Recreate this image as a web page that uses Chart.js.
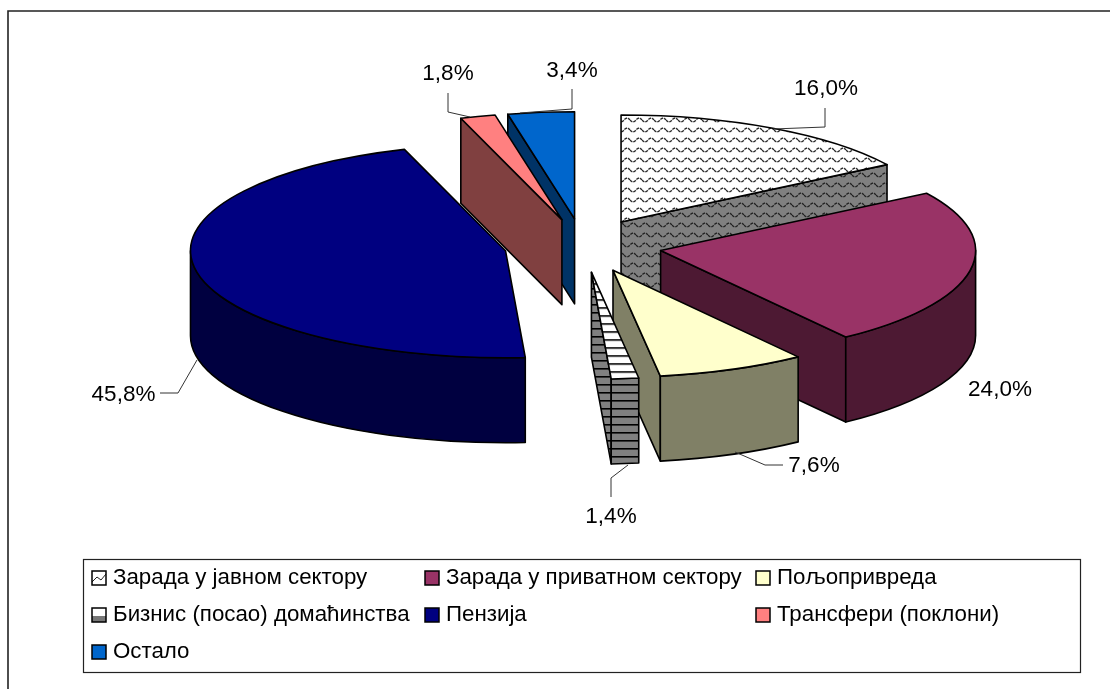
<!DOCTYPE html>
<html><head><meta charset="utf-8">
<style>html,body{margin:0;padding:0;background:#fff}canvas{display:block}</style>
<script src="https://cdn.jsdelivr.net/npm/chart.js@4"></script></head>
<body><canvas id="c" width="1110" height="689"></canvas>
<script>
const categories = ['Зарада у јавном сектору','Зарада у приватном сектору','Пољопривреда','Бизнис (посао) домаћинства','Пензија','Трансфери (поклони)','Остало'];
const values = [16.0,24.0,7.6,1.4,45.8,1.8,3.4];
const topColors = ['#FFFFFF','#993366','#FFFFCC','#FFFFFF','#000080','#FF8080','#0066CC'];
const wallColors = ['#808080','#4D1933','#808066','#808080','#000040','#804040','#003366'];
const drawOrder = [4,6,5,0,1,2,3];
const labelAnchors = [[826,95],[1000,396],[814,472],[611,523],[123.5,401],[448,80],[572,77]];
const leaders = [[[825,108],[825,127],[773,129]],[],[[783,465],[765,465],[735,452]],[[611,497],[611,478],[628,465]],[[160,393],[178,393],[197,360]],[[448,93],[448,112],[470,117]],[[572,89],[572,109],[520,113]]];
const legendCells = [[92,578],[425,578],[756,578],[92,615],[425,615],[756,615],[92,652]];
const FONT = '"Liberation Sans", Arial, sans-serif';
const RX = 315, K = 107/315, CX = 583, CY = 245.5, DEPTH = 85, EXPLODE = 79;

function tile(w,h,bg,paint){const t=document.createElement('canvas');t.width=w;t.height=h;const g=t.getContext('2d');g.fillStyle=bg;g.fillRect(0,0,w,h);paint(g,w,h);return t;}
function wave(g,w,h){g.strokeStyle='#222';g.lineWidth=1.4;g.setLineDash([3,1]);g.beginPath();for(let x=0;x<=w;x++){const y=h/2+2*Math.sin(x/w*2*Math.PI);x?g.lineTo(x,y):g.moveTo(x,y);}g.stroke();}
function stripe(g,w,h){g.fillStyle='#000';g.fillRect(0,0,w,1.6);}
const scr=document.createElement('canvas').getContext('2d');
function pat(bg,paint,w,h,sy){const p=scr.createPattern(tile(w,h,bg,paint),'repeat');if(sy)p.setTransform(new DOMMatrix().scale(1,sy));return p;}
const fills=topColors.slice(), wallFills=wallColors.slice();
fills[0]=pat('#fff',wave,12,10,1/K); wallFills[0]=pat('#808080',wave,12,10);
fills[3]=pat('#fff',stripe,8,8,1/K); wallFills[3]=pat('#808080',stripe,8,8);
const swatchFills=topColors.slice();
swatchFills[0]=pat('#fff',(g)=>{g.strokeStyle='#222';g.beginPath();g.moveTo(0,11);g.lineTo(5,6);g.lineTo(9,9);g.lineTo(14,3);g.stroke();},14,14);
swatchFills[3]=pat('#fff',(g)=>{g.fillStyle='#777';g.fillRect(0,8,14,6);},14,14);

const pie3d={id:'pie3d',beforeDatasetsDraw(chart){
  const ctx=chart.ctx, meta=chart.getDatasetMeta(0);
  ctx.save();ctx.strokeStyle='#000';ctx.lineWidth=1.6;ctx.lineJoin='round';
  for(const i of drawOrder){
    const a=meta.data[i], mid=(a.startAngle+a.endAngle)/2;
    const ax=CX+Math.cos(mid)*EXPLODE, ay=CY+Math.sin(mid)*EXPLODE*K, rx=a.outerRadius, ry=rx*K;
    const rim=t=>[ax+rx*Math.cos(t),ay+ry*Math.sin(t)];
    const quad=(t)=>{const p=rim(t);ctx.beginPath();ctx.moveTo(ax,ay);ctx.lineTo(p[0],p[1]);ctx.lineTo(p[0],p[1]+DEPTH);ctx.lineTo(ax,ay+DEPTH);ctx.closePath();ctx.fillStyle=wallFills[i];ctx.fill();ctx.stroke();};
    if(Math.cos(a.startAngle)<-1e-6)quad(a.startAngle);
    if(Math.cos(a.endAngle)>1e-6)quad(a.endAngle);
    // the outer wall, seen only on the near half of the rim
    const lo=Math.max(a.startAngle,0),hi=Math.min(a.endAngle,Math.PI);
    if(hi>lo){ctx.beginPath();ctx.ellipse(ax,ay,rx,ry,0,lo,hi);ctx.ellipse(ax,ay+DEPTH,rx,ry,0,hi,lo,true);ctx.closePath();ctx.fillStyle=wallFills[i];ctx.fill();ctx.stroke();}
    // top face through the library's own arc element
    ctx.save();ctx.transform(1,0,0,K,ax-a.x,ay-K*a.y);a.draw(ctx);ctx.restore();
    ctx.beginPath();ctx.moveTo(ax,ay);ctx.ellipse(ax,ay,rx,ry,0,a.startAngle,a.endAngle);ctx.closePath();ctx.stroke();
  }
  ctx.restore();return false;
},afterDraw(chart){
  const ctx=chart.ctx;ctx.save();
  // frame
  ctx.strokeStyle='#222';ctx.lineWidth=1.6;ctx.beginPath();ctx.moveTo(8,689);ctx.lineTo(8,11);ctx.lineTo(1110,11);ctx.stroke();
  // leaders
  ctx.strokeStyle='#333';ctx.lineWidth=1;
  leaders.forEach(l=>{if(!l.length)return;ctx.beginPath();l.forEach((p,j)=>j?ctx.lineTo(p[0],p[1]):ctx.moveTo(p[0],p[1]));ctx.stroke();});
  // value labels
  ctx.fillStyle='#000';ctx.font='22.5px '+FONT;ctx.textAlign='center';ctx.textBaseline='alphabetic';
  values.forEach((v,i)=>ctx.fillText(v.toFixed(1).replace('.',',')+'%',labelAnchors[i][0],labelAnchors[i][1]));
  // legend
  ctx.fillStyle='#fff';ctx.strokeStyle='#222';ctx.lineWidth=1.2;ctx.fillRect(83,559,997,113);ctx.strokeRect(83.5,559.5,997,113);
  ctx.textAlign='left';ctx.font='22.3px '+FONT;ctx.lineWidth=1.5;ctx.strokeStyle='#000';
  categories.forEach((c,i)=>{const [x,y]=legendCells[i];ctx.fillStyle=swatchFills[i];ctx.save();ctx.translate(x,y-7);ctx.fillRect(0,0,14,14);ctx.strokeRect(0,0,14,14);ctx.restore();ctx.fillStyle='#000';ctx.fillText(c,x+21,y+6);});
  ctx.restore();
}};
new Chart(document.getElementById('c'),{type:'pie',data:{labels:categories,datasets:[{data:values,backgroundColor:fills,borderWidth:0}]},
 options:{responsive:false,animation:false,radius:RX,layout:{padding:0},plugins:{legend:{display:false},tooltip:{enabled:false}}},plugins:[pie3d]});
</script></body></html>
